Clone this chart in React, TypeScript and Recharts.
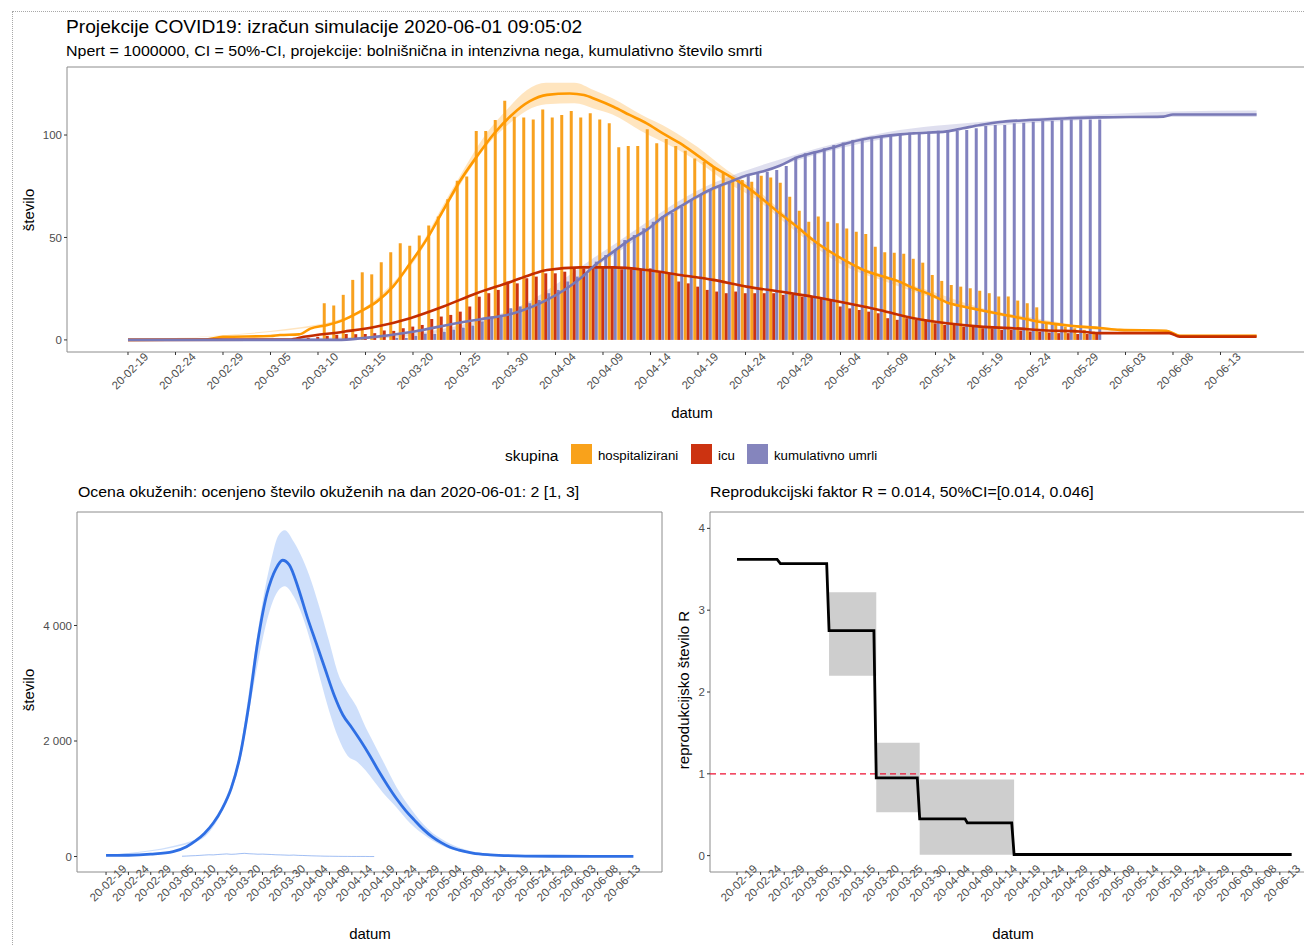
import React from 'react';
import { ComposedChart, Line, Bar, Area, XAxis, YAxis, CartesianGrid, ReferenceLine, ReferenceArea } from 'recharts';

const FONT = '"Liberation Sans", Arial, Helvetica, sans-serif';
const TICK_COLOR = '#4d4d4d';

// ---- x axis (days since 2020-02-19) ----
const tickDays = [0, 5, 10, 15, 20, 25, 30, 35, 40, 45, 50, 55, 60, 65, 70, 75, 80, 85, 90, 95, 100, 105, 110, 115];
const tickLabels = ['20-02-19', '20-02-24', '20-02-29', '20-03-05', '20-03-10', '20-03-15', '20-03-20', '20-03-25', '20-03-30', '20-04-04', '20-04-09', '20-04-14', '20-04-19', '20-04-24', '20-04-29', '20-05-04', '20-05-09', '20-05-14', '20-05-19', '20-05-24', '20-05-29', '20-06-03', '20-06-08', '20-06-13'];
const gridMajorX = [-5, ...tickDays, 120];
const gridMinorX = [-2.5, ...tickDays.map((d) => d + 2.5), 122.5];

// ---- top chart: observed bars ----
const hospBarStart = 21;
const hospBarValues = [
  17.9, 16.8, 22, 29.3, 33, 32, 37.9, 42.8, 47.2, 45.9, 50.9, 55.8, 60.2, 68.6, 77.7, 79.7, 102, 102, 107.3, 116.7,
  108.9, 108.6, 107.6, 112.4, 108.6, 109.8, 111.7, 108.6, 110.6, 107.6, 105.7, 94, 94.7, 94.7, 102.8, 96, 98.1, 94.7, 92.3, 88.6,
  87, 84.6, 81.6, 78.9, 78, 77.2, 80.1, 79.3, 76.7, 69.9, 63.1, 57.7, 60.2, 57.7, 56.9, 54.4, 52.8, 51.7, 45.5, 42.8, 42.6,
  42, 39.6, 37.7, 31.7, 28.8, 26.8, 26, 25.2, 24, 22.8, 21.2, 21.2, 19.2, 17.9, 15.9, 8.1, 8.1, 6.5, 5.7, 4.9, 4.1,
];
const icuBarStart = 19;
const icuBarValues = [
  1, 1.5, 2, 2.5,
  2.9, 2.8, 2.9, 3.3, 4.6, 4.4, 5.7, 6.5, 7.3, 10.2, 11.4, 12.2, 13.8, 16.3, 21.1, 22.8, 24.4, 28.5,
  27.6, 30.1, 30.9, 32.5, 32.5, 33.3, 34.9, 34.9, 34.9, 35.4, 35.4, 34.5, 34.5, 34.1, 34.9, 33.3, 32.5, 28.5, 27.6, 26,
  24.4, 23.6, 22.8, 23.6, 22.8, 22.8, 22.8, 22.8, 22, 22, 21.1, 21.1, 20.3, 19.5, 16.3, 15.4, 14.6, 13.8, 13, 10.6, 9.8,
  10.6, 9.8, 9.8, 8.1, 7.3, 7.3, 6.5, 6.5, 5.7, 5.7, 4.9, 4.9, 4.6, 4.1, 4.1, 3.6, 3.3, 3.3, 2.9, 2.9, 2.9,
];
const umrliBarStart = 28;
const umrliBarValues = [
  1, 1, 2, 3, 3, 4, 5, 6, 7, 9,
  11.4, 12.2, 15.4, 16.3, 17.9, 19.5, 22.8, 24.4, 28.5, 30.9, 32.5, 38.2, 41.5, 43.6, 48.8, 51.2, 54.5, 57.7, 60.2, 62.1, 65, 68.3,
  70.7, 73.2, 75.6, 77.2, 78, 80.5, 81.3, 82.1, 82.9, 84.9, 89.4, 91.1, 91.9, 93.5, 95.1, 96.3, 97.6, 97.9, 98.9, 99.2, 99.6, 100,
  101.1, 101.1, 101.6, 102.1, 102.4, 102.1, 102.4, 103.3, 104.4, 104.9, 104.9, 105.7, 106, 106.5, 107, 107, 107.3, 107.6, 107.6, 107.6, 107.6,
];

// ---- top chart: model medians [day, value] ----
const hospLine = [[0, 0], [8, 0.2], [10, 1.5], [15, 1.9], [16, 2.4], [18, 2.7], [19.2, 5.5], [21, 7.3], [22.7, 9.8], [24.4, 13.8], [26.2, 18.7], [27.9, 26], [29.7, 37.4], [31.4, 48.8], [33.2, 63.4], [34.9, 77.2], [36.7, 89.4], [38.5, 100.5], [40.4, 109.8], [42.3, 116.5], [44.1, 119.6], [46.5, 120.3], [48, 119.5], [49.3, 117.3], [51.1, 113.8], [52.8, 109.8], [54.6, 105.7], [56.3, 100.8], [58.1, 96], [59.9, 90.2], [61.6, 84.6], [63.4, 79.7], [65.1, 74.8], [66.9, 68.3], [68.6, 61.8], [70.4, 55.3], [72.1, 48.8], [73.9, 43.1], [75.7, 38.2], [77.4, 34.1], [79.2, 31.3], [81, 28.8], [82.7, 25.2], [84.4, 22.3], [86.2, 18.3], [87.9, 16.3], [89.7, 14.6], [91.4, 13], [93.2, 11.4], [94.9, 9.8], [96.7, 8.3], [98.5, 7.3], [100.2, 6.5], [102.3, 5.8], [104.4, 4.9], [109.3, 4.5], [110.7, 2], [118.8, 2]];
const icuLine = [[0, 0], [17, 0.2], [18.5, 1.5], [22.7, 4], [26.2, 6.5], [29.7, 10.6], [33.2, 16.3], [36.7, 22.8], [40.4, 28.5], [42.3, 31.7], [44.1, 34.1], [47.6, 35.4], [51.1, 35.4], [54.6, 34.1], [58.1, 31.7], [61.6, 29.3], [65.1, 26], [68.6, 23.6], [72.1, 21.1], [75.7, 17.9], [79.2, 14.5], [82.7, 10.6], [86.2, 8.1], [89.7, 6.5], [93.2, 5.7], [96.7, 4.6], [100.2, 4.1], [102.3, 3.3], [109.6, 3.3], [110.7, 1.6], [118.8, 1.6]];
const umrliLine = [[0, 0], [22, 0], [25, 1], [30, 4], [35, 8.5], [37, 10], [40.6, 13], [44.1, 19.5], [47.6, 30], [49.3, 37], [51.1, 43.1], [52.8, 48.8], [54.6, 53.7], [56.3, 60], [58.1, 65], [59.9, 69.9], [61.6, 74], [63.4, 77.2], [65.1, 80.3], [66.9, 82.3], [68.6, 85], [70.4, 89], [72.1, 91.3], [73.9, 93.5], [75.7, 96], [77.4, 97.9], [79.2, 99.2], [81.3, 100.3], [82.7, 100.8], [86.2, 101.8], [87.9, 103.3], [89.7, 104.9], [92.1, 106.5], [94.9, 107.3], [98.5, 108.1], [102.3, 108.6], [109, 109], [110, 110], [118.8, 110]];
// ribbons [day, lo, hi]
const hospRibbon = [[0, 0, 0], [20, 6.5, 7.5], [26, 17.8, 19.6], [30, 37.5, 40], [34, 68.5, 72.5], [38, 96, 102.5], [40, 105, 113], [42, 112, 122], [44, 115, 125.5], [47, 115.5, 125.5], [49, 113, 122], [51, 110, 118], [54, 102, 110], [57, 95, 103], [60, 87, 94], [63, 77, 83], [66, 69, 74], [70, 54, 58], [75, 37, 40], [80, 28, 31], [85, 20, 23], [90, 13.5, 15.5], [95, 9, 11], [100, 5.8, 7.2], [104, 4.3, 5.5], [109, 4, 5], [111, 1.6, 2.6], [118.8, 1.5, 2.8]];
const umrliRibbon = [[0, 0, 0], [25, 0.5, 1.5], [40, 12, 14], [50, 38, 43], [60, 69, 73], [70, 87, 90], [80, 98.5, 101.5], [90, 104, 106.5], [100, 107.2, 109.5], [110, 108.8, 111.5], [118.8, 108.8, 112]];

// ---- bottom left: infected estimate ----
const infLine = [[0, 20], [5, 22], [10, 40], [15, 85], [18, 170], [20, 270], [22, 400], [24, 580], [26, 830], [28, 1180], [30, 1750], [32, 2650], [34, 3750], [36, 4550], [37, 4800], [38, 4980], [39.5, 5130], [41, 5050], [43, 4650], [45, 4150], [47, 3700], [49, 3250], [51, 2800], [53, 2450], [55, 2230], [57, 2000], [59, 1750], [61, 1480], [63, 1230], [65, 1000], [67, 800], [69, 630], [71, 470], [73, 340], [75, 240], [77, 160], [79, 110], [82, 60], [86, 30], [92, 12], [100, 5], [118, 3]];
const infRibbon = [[0, 15, 25], [20, 250, 290], [26, 790, 870], [30, 1650, 1850], [33, 2950, 3400], [35, 3750, 4400], [37, 4350, 5150], [38.5, 4600, 5550], [40, 4680, 5650], [42, 4500, 5450], [44, 4150, 5150], [46, 3650, 4750], [48, 3050, 4250], [50, 2500, 3700], [52, 2050, 3150], [54, 1750, 2850], [56, 1650, 2600], [58, 1500, 2250], [60, 1300, 1950], [62, 1100, 1650], [65, 850, 1200], [68, 580, 850], [72, 330, 480], [76, 160, 260], [80, 70, 130], [86, 25, 45], [100, 3, 8], [118, 1, 5]];
const obsStart = 17;
const obsValues = [5, 8, 12, 15, 20, 25, 30, 28, 35, 40, 45, 38, 42, 50, 55, 48, 45, 40, 42, 38, 35, 30, 28, 25, 22, 25, 20, 18, 15, 12, 10, 8, 6, 5, 4, 3, 2, 2, 1, 1, 1, 1, 0, 0];

// ---- bottom right: reproduction number ----
const rLine = [[0, 3.62], [8.5, 3.62], [9.2, 3.57], [19, 3.57], [19.5, 2.75], [29, 2.75], [29.5, 0.95], [38.2, 0.95], [38.7, 0.45], [48.3, 0.45], [48.8, 0.4], [58.2, 0.4], [58.7, 0.014], [117.5, 0.014]];
const rRibStart = [19.5, 29.5, 38.7];
const rRibEnd = [29.5, 38.7, 58.7];
const rRibLo = [2.2, 0.53, 0.01];
const rRibHi = [3.22, 1.38, 0.93];

// ---- legend ----
const legendItems = [
  { label: 'hospitalizirani', color: '#f9a21b' },
  { label: 'icu', color: '#cc3311' },
  { label: 'kumulativno umrli', color: '#8585bd' },
];

// ---- built tables ----
const barRows: any[] = [];
for (let d = icuBarStart; d <= 102; d++) {
  barRows.push({
    day: d,
    hosp: d >= hospBarStart ? hospBarValues[d - hospBarStart] : null,
    icu: icuBarValues[d - icuBarStart],
    umrli: d >= umrliBarStart ? umrliBarValues[d - umrliBarStart] : null,
  });
}
const toRows = (a: number[][]) => a.map(([day, v]) => ({ day, v }));
const toRib = (a: number[][]) => a.map(([day, lo, hi]) => ({ day, r: [lo, hi] }));
const obsRows = obsValues.map((v, i) => ({ day: obsStart + i, v }));

const vGen = (vals: number[]) => (p: any) => (p && p.xAxis && typeof p.xAxis.scale === 'function' ? vals.map((v) => p.xAxis.scale(v)) : []);
const hGen = (vals: number[]) => (p: any) => (p && p.yAxis && typeof p.yAxis.scale === 'function' ? vals.map((v) => p.yAxis.scale(v)) : []);

const makeDateTick = (dy: number, fs: number) => (props: any) => {
  const { x, y, payload } = props;
  const i = tickDays.indexOf(payload.value);
  const cx = x + 2;
  const cy = y + dy;
  return (
    <text x={cx} y={cy} dy="0.35em" textAnchor="middle" fontSize={fs} fill={TICK_COLOR} fontFamily={FONT} transform={`rotate(-45 ${cx} ${cy})`}>
      {tickLabels[i]}
    </text>
  );
};

const yTick = { fontSize: 11.5, fill: TICK_COLOR, fontFamily: FONT };
const sep = (v: number) => String(v).replace(/\B(?=(\d{3})+(?!\d))/g, ' ');

const abs = (l: number, t: number, extra: any = {}) => ({ position: 'absolute' as const, left: l, top: t, whiteSpace: 'nowrap' as const, fontFamily: FONT, ...extra });
const vlabel = (cx: number, cy: number, text: string, fs = 15) => (
  <div style={abs(cx, cy, { fontSize: fs, color: '#000', transform: 'translate(-50%, -50%) rotate(-90deg)' })}>{text}</div>
);
const hlabel = (cx: number, cy: number, text: string, fs = 15) => (
  <div style={abs(cx, cy, { fontSize: fs, color: '#000', transform: 'translate(-50%, -50%)' })}>{text}</div>
);

const TOP_X: [number, number] = [-6.42, 125];
const TOP_Y: [number, number] = [-5.9, 133.2];
const BL_X: [number, number] = [-6.5, 124.4];
const BL_Y: [number, number] = [-268, 5965];
const BR_X: [number, number] = [-5.72, 125.2];
const BR_Y: [number, number] = [-0.2, 4.2];

export default function App() {
  return (
    <div style={{ position: 'absolute', left: 0, top: 0, width: 1304, height: 946, overflow: 'hidden', background: '#fff', fontFamily: FONT }}>
      <div style={{ position: 'absolute', left: 12, top: 11, width: 1400, height: 1000, border: '1px dotted #a8a8a8' }} />

      <div style={abs(66, 16, { fontSize: 19, color: '#000', transformOrigin: 'left top', transform: 'scaleX(1.01)' })}>Projekcije COVID19: izračun simulacije 2020-06-01 09:05:02</div>
      <div style={abs(66, 43, { fontSize: 14, color: '#000', transformOrigin: 'left top', transform: 'scaleX(1.14)' })}>Npert = 1000000, CI = 50%-CI, projekcije: bolnišnična in intenzivna nega, kumulativno število smrti</div>

      {/* top chart */}
      <div style={{ position: 'absolute', left: 0, top: 0 }}>
        <ComposedChart width={1400} height={470} data={barRows} margin={{ top: 67, right: 84.5, bottom: 78, left: 37 }} barGap={0} barCategoryGap={0}>
          <CartesianGrid stroke="#f0f0f0" strokeWidth={0.7} verticalCoordinatesGenerator={vGen(gridMinorX)} horizontalCoordinatesGenerator={hGen([25, 75, 125])} />
          <CartesianGrid stroke="#e4e4e4" strokeWidth={1} verticalCoordinatesGenerator={vGen(gridMajorX)} horizontalCoordinatesGenerator={hGen([0, 50, 100])} />
          <XAxis type="number" dataKey="day" domain={TOP_X} allowDataOverflow ticks={tickDays} interval={0} tickSize={3} tickLine={{ stroke: '#333' }} axisLine={false} height={40} tick={makeDateTick(14, 11.5)} />
          <XAxis xAxisId="s" type="number" dataKey="day" domain={TOP_X} allowDataOverflow hide />
          <YAxis type="number" domain={TOP_Y} allowDataOverflow ticks={[0, 50, 100]} width={30} tickSize={3} tickLine={{ stroke: '#333' }} axisLine={false} tick={yTick} />
          <Area xAxisId="s" data={toRib(hospRibbon)} dataKey="r" type="monotone" fill="#ff9900" fillOpacity={0.25} stroke="none" isAnimationActive={false} />
          <Area xAxisId="s" data={toRib(umrliRibbon)} dataKey="r" type="monotone" fill="#8080c0" fillOpacity={0.25} stroke="none" isAnimationActive={false} />
          <Bar dataKey="hosp" fill="#f8a11f" barSize={3} isAnimationActive={false} />
          <Bar dataKey="icu" fill="#cc3311" barSize={3} isAnimationActive={false} />
          <Bar dataKey="umrli" fill="#8282bf" barSize={3} isAnimationActive={false} />
          <Line xAxisId="s" data={toRows(hospLine)} dataKey="v" type="monotone" stroke="#ff9900" strokeWidth={2.6} dot={false} isAnimationActive={false} />
          <Line xAxisId="s" data={toRows(icuLine)} dataKey="v" type="monotone" stroke="#c42d00" strokeWidth={2.6} dot={false} isAnimationActive={false} />
          <Line xAxisId="s" data={toRows(umrliLine)} dataKey="v" type="monotone" stroke="#7878b6" strokeWidth={2.6} dot={false} isAnimationActive={false} />
          <ReferenceArea x1={TOP_X[0]} x2={TOP_X[1]} y1={TOP_Y[0]} y2={TOP_Y[1]} fill="none" stroke="#8c8c8c" strokeWidth={1} ifOverflow="visible" />
        </ComposedChart>
      </div>
      {vlabel(28, 210, 'število')}
      {hlabel(692, 412, 'datum')}

      {/* legend */}
      <div style={abs(505, 446, { fontSize: 15.5, color: '#000', lineHeight: '20px' })}>skupina</div>
      {legendItems.map((it, i) => {
        const lefts = [571, 691, 747];
        return (
          <React.Fragment key={it.label}>
            <div style={{ position: 'absolute', left: lefts[i], top: 444, width: 21, height: 20, background: it.color }} />
            <div style={abs(lefts[i] + 27, 446, { fontSize: 12.5, color: '#000', lineHeight: '20px', transformOrigin: 'left top', transform: 'scaleX(1.06)' })}>{it.label}</div>
          </React.Fragment>
        );
      })}

      {/* bottom left */}
      <div style={abs(78, 484, { fontSize: 14.3, color: '#000', transformOrigin: 'left top', transform: 'scaleX(1.11)' })}>Ocena okuženih: ocenjeno število okuženih na dan 2020-06-01: 2 [1, 3]</div>
      <div style={{ position: 'absolute', left: 0, top: 470 }}>
        <ComposedChart width={680} height={476} margin={{ top: 42, right: 18, bottom: 34, left: 37 }}>
          <CartesianGrid stroke="#f0f0f0" strokeWidth={0.7} verticalCoordinatesGenerator={vGen(gridMinorX)} horizontalCoordinatesGenerator={hGen([1000, 3000, 5000])} />
          <CartesianGrid stroke="#e4e4e4" strokeWidth={1} verticalCoordinatesGenerator={vGen(gridMajorX)} horizontalCoordinatesGenerator={hGen([0, 2000, 4000])} />
          <XAxis type="number" dataKey="day" domain={BL_X} allowDataOverflow ticks={tickDays} interval={0} tickSize={3} tickLine={{ stroke: '#333' }} axisLine={false} height={40} tick={makeDateTick(6, 11.5)} />
          <YAxis type="number" domain={BL_Y} allowDataOverflow ticks={[0, 2000, 4000]} width={40} tickSize={3} tickLine={{ stroke: '#333' }} axisLine={false} tick={yTick} tickFormatter={sep} />
          <Area data={toRib(infRibbon)} dataKey="r" type="monotone" fill="#3d7ef0" fillOpacity={0.25} stroke="none" isAnimationActive={false} />
          <Line data={obsRows} dataKey="v" type="linear" stroke="#2f6fe4" strokeWidth={1} strokeOpacity={0.45} dot={false} isAnimationActive={false} />
          <Line data={toRows(infLine)} dataKey="v" type="monotone" stroke="#2f6fe4" strokeWidth={2.8} dot={false} isAnimationActive={false} />
          <ReferenceArea x1={BL_X[0]} x2={BL_X[1]} y1={BL_Y[0]} y2={BL_Y[1]} fill="none" stroke="#8c8c8c" strokeWidth={1} ifOverflow="visible" />
        </ComposedChart>
      </div>
      {vlabel(28, 690, 'število')}
      {hlabel(370, 933, 'datum')}

      {/* bottom right */}
      <div style={abs(710, 484, { fontSize: 14.3, color: '#000', transformOrigin: 'left top', transform: 'scaleX(1.11)' })}>Reprodukcijski faktor R = 0.014, 50%CI=[0.014, 0.046]</div>
      <div style={{ position: 'absolute', left: 680, top: 470 }}>
        <ComposedChart width={700} height={476} data={toRows(rLine)} margin={{ top: 42, right: 52, bottom: 34, left: 10 }}>
          <CartesianGrid stroke="#f0f0f0" strokeWidth={0.7} verticalCoordinatesGenerator={vGen(gridMinorX)} horizontalCoordinatesGenerator={hGen([0.5, 1.5, 2.5, 3.5])} />
          <CartesianGrid stroke="#e4e4e4" strokeWidth={1} verticalCoordinatesGenerator={vGen(gridMajorX)} horizontalCoordinatesGenerator={hGen([0, 1, 2, 3, 4])} />
          <XAxis type="number" dataKey="day" domain={BR_X} allowDataOverflow ticks={tickDays} interval={0} tickSize={3} tickLine={{ stroke: '#333' }} axisLine={false} height={40} tick={makeDateTick(6, 11.5)} />
          <YAxis type="number" domain={BR_Y} allowDataOverflow ticks={[0, 1, 2, 3, 4]} width={20} tickSize={3} tickLine={{ stroke: '#333' }} axisLine={false} tick={yTick} />
          {rRibStart.map((s, i) => (
            <ReferenceArea key={i} x1={s} x2={rRibEnd[i]} y1={rRibLo[i]} y2={rRibHi[i]} fill="#a6a6a6" fillOpacity={0.55} stroke="none" />
          ))}
          <ReferenceLine y={1} stroke="#ee1133" strokeWidth={1.3} strokeDasharray="6 4" />
          <Line dataKey="v" type="linear" stroke="#000" strokeWidth={2.8} dot={false} isAnimationActive={false} />
          <ReferenceArea x1={BR_X[0]} x2={BR_X[1]} y1={BR_Y[0]} y2={BR_Y[1]} fill="none" stroke="#8c8c8c" strokeWidth={1} ifOverflow="visible" />
        </ComposedChart>
      </div>
      {vlabel(683, 690, 'reprodukcijsko število R')}
      {hlabel(1013, 933, 'datum')}
    </div>
  );
}
